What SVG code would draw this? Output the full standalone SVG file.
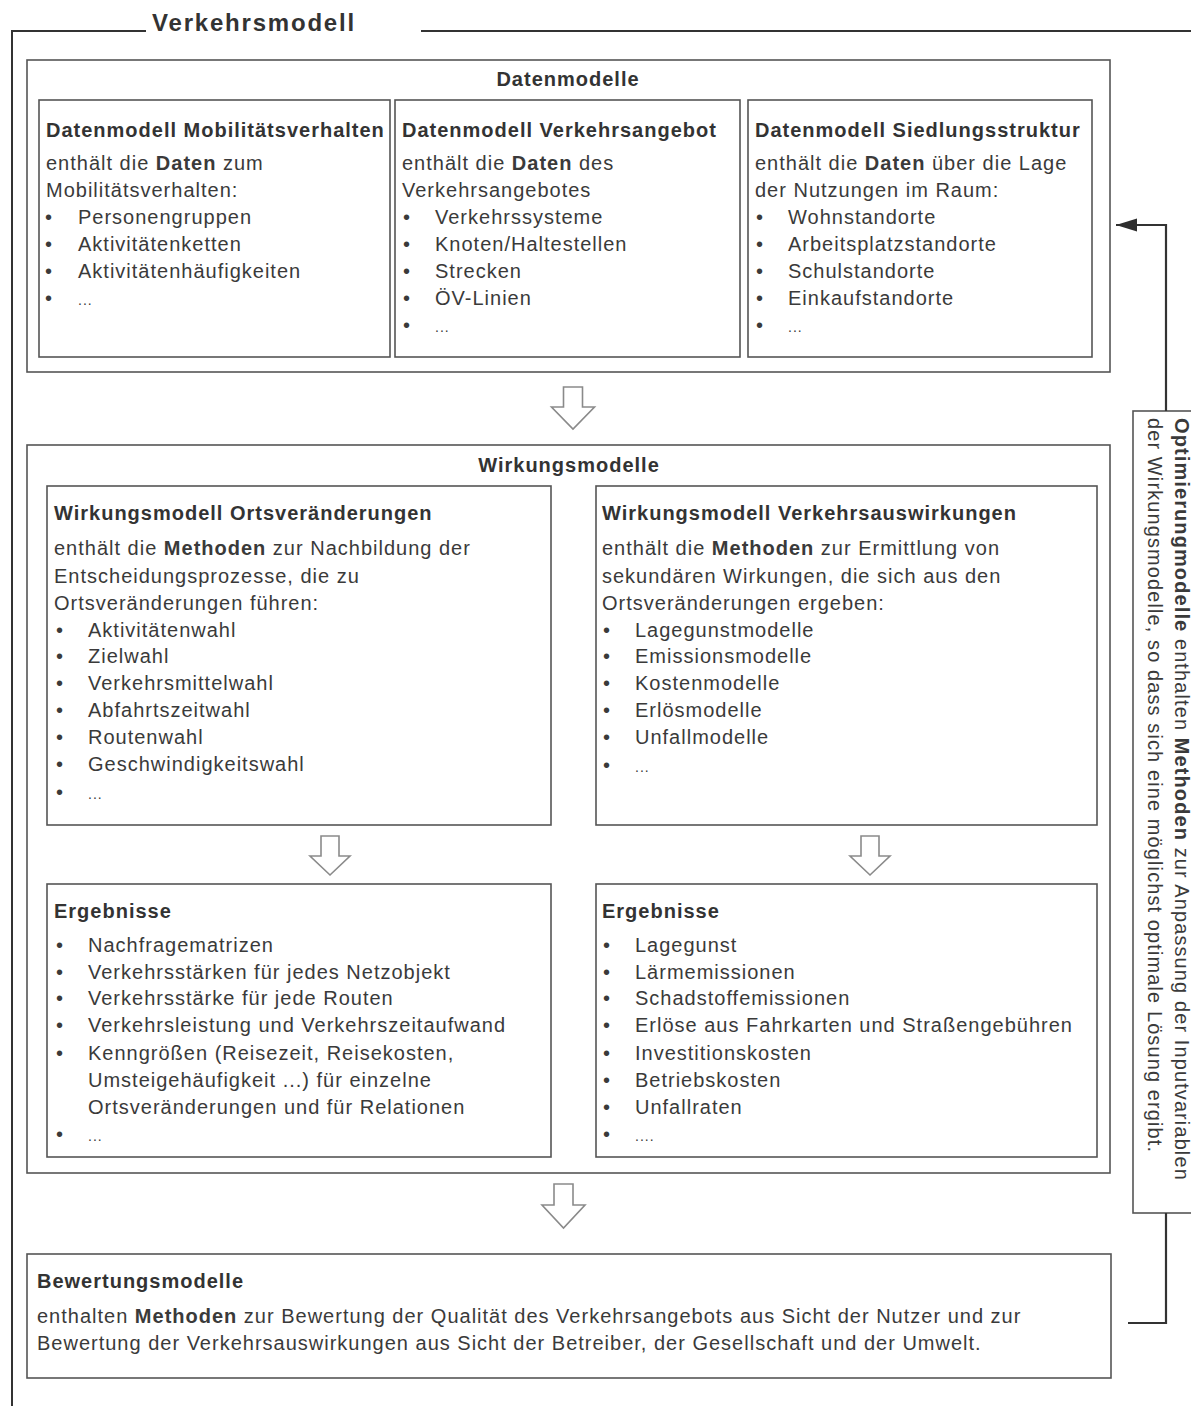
<svg xmlns="http://www.w3.org/2000/svg" width="1191" height="1406" viewBox="0 0 1191 1406">
<style>
text{font-family:"Liberation Sans",Arial,sans-serif;font-size:20px;fill:#3a3a3a;letter-spacing:1px}
.b{font-weight:bold}
.t{font-weight:bold;fill:#333}
.box{fill:#fff;stroke:#555;stroke-width:1.6}
.frame{fill:none;stroke:#333;stroke-width:2}
.blk{fill:#fff;stroke:#8a8a8a;stroke-width:1.6;stroke-linejoin:miter}
.con{fill:none;stroke:#333;stroke-width:2.2}
</style>
<defs>
<marker id="ah" markerWidth="22" markerHeight="14" refX="21" refY="7" orient="auto" markerUnits="userSpaceOnUse">
<path d="M0,0.5 L21,7 L0,13.5 Z" fill="#2e2e2e"/>
</marker>
</defs>
<rect width="1191" height="1406" fill="#fff"/>

<g id="frame">
<path class="frame" d="M12,1406 V31 H146 M421,31 H1191"/>
<text class="t" x="152" y="31" style="font-size:24px;letter-spacing:1.8px">Verkehrsmodell</text>
</g>

<g id="datenmodelle">
<rect class="box" x="27" y="60" width="1083" height="312"/>
<text class="t" x="568" y="86" text-anchor="middle">Datenmodelle</text>
</g>

<g id="dm-mobilitaet">
<rect class="box" x="39" y="100" width="351" height="257"/>
<text class="t" x="46" y="137">Datenmodell Mobilitätsverhalten</text>
<text x="46" y="170">enthält die <tspan class="b">Daten</tspan> zum</text>
<text x="46" y="197">Mobilitätsverhalten:</text>
<text x="45" y="224">•</text><text x="78" y="224">Personengruppen</text>
<text x="45" y="251">•</text><text x="78" y="251">Aktivitätenketten</text>
<text x="45" y="278">•</text><text x="78" y="278">Aktivitätenhäufigkeiten</text>
<text x="45" y="305">•</text><text x="78" y="305" style="font-size:14px">...</text>
</g>

<g id="dm-verkehrsangebot">
<rect class="box" x="395" y="100" width="345" height="257"/>
<text class="t" x="402" y="137">Datenmodell Verkehrsangebot</text>
<text x="402" y="170">enthält die <tspan class="b">Daten</tspan> des</text>
<text x="402" y="197">Verkehrsangebotes</text>
<text x="403" y="224">•</text><text x="435" y="224">Verkehrssysteme</text>
<text x="403" y="251">•</text><text x="435" y="251">Knoten/Haltestellen</text>
<text x="403" y="278">•</text><text x="435" y="278">Strecken</text>
<text x="403" y="305">•</text><text x="435" y="305">ÖV-Linien</text>
<text x="403" y="332">•</text><text x="435" y="332" style="font-size:14px">...</text>
</g>

<g id="dm-siedlung">
<rect class="box" x="748" y="100" width="344" height="257"/>
<text class="t" x="755" y="137">Datenmodell Siedlungsstruktur</text>
<text x="755" y="170">enthält die <tspan class="b">Daten</tspan> über die Lage</text>
<text x="755" y="197">der Nutzungen im Raum:</text>
<text x="756" y="224">•</text><text x="788" y="224">Wohnstandorte</text>
<text x="756" y="251">•</text><text x="788" y="251">Arbeitsplatzstandorte</text>
<text x="756" y="278">•</text><text x="788" y="278">Schulstandorte</text>
<text x="756" y="305">•</text><text x="788" y="305">Einkaufstandorte</text>
<text x="756" y="332">•</text><text x="788" y="332" style="font-size:14px">...</text>
</g>

<g id="wirkungsmodelle">
<rect class="box" x="27" y="445" width="1083" height="728"/>
<text class="t" x="569" y="472" text-anchor="middle">Wirkungsmodelle</text>
</g>

<g id="wm-orts">
<rect class="box" x="47" y="486" width="504" height="339"/>
<text class="t" x="54" y="520">Wirkungsmodell Ortsveränderungen</text>
<text x="54" y="555">enthält die <tspan class="b">Methoden</tspan> zur Nachbildung der</text>
<text x="54" y="583">Entscheidungsprozesse, die zu</text>
<text x="54" y="610">Ortsveränderungen führen:</text>
<text x="56" y="637">•</text><text x="88" y="637">Aktivitätenwahl</text>
<text x="56" y="663">•</text><text x="88" y="663">Zielwahl</text>
<text x="56" y="690">•</text><text x="88" y="690">Verkehrsmittelwahl</text>
<text x="56" y="717">•</text><text x="88" y="717">Abfahrtszeitwahl</text>
<text x="56" y="744">•</text><text x="88" y="744">Routenwahl</text>
<text x="56" y="771">•</text><text x="88" y="771">Geschwindigkeitswahl</text>
<text x="56" y="799">•</text><text x="88" y="799" style="font-size:14px">...</text>
</g>

<g id="wm-verkehr">
<rect class="box" x="596" y="486" width="501" height="339"/>
<text class="t" x="602" y="520">Wirkungsmodell Verkehrsauswirkungen</text>
<text x="602" y="555">enthält die <tspan class="b">Methoden</tspan> zur Ermittlung von</text>
<text x="602" y="583">sekundären Wirkungen, die sich aus den</text>
<text x="602" y="610">Ortsveränderungen ergeben:</text>
<text x="603" y="637">•</text><text x="635" y="637">Lagegunstmodelle</text>
<text x="603" y="663">•</text><text x="635" y="663">Emissionsmodelle</text>
<text x="603" y="690">•</text><text x="635" y="690">Kostenmodelle</text>
<text x="603" y="717">•</text><text x="635" y="717">Erlösmodelle</text>
<text x="603" y="744">•</text><text x="635" y="744">Unfallmodelle</text>
<text x="603" y="772">•</text><text x="635" y="772" style="font-size:14px">...</text>
</g>

<g id="erg-orts">
<rect class="box" x="47" y="884" width="504" height="273"/>
<text class="t" x="54" y="918">Ergebnisse</text>
<text x="56" y="952">•</text><text x="88" y="952">Nachfragematrizen</text>
<text x="56" y="979">•</text><text x="88" y="979">Verkehrsstärken für jedes Netzobjekt</text>
<text x="56" y="1005">•</text><text x="88" y="1005">Verkehrsstärke für jede Routen</text>
<text x="56" y="1032">•</text><text x="88" y="1032">Verkehrsleistung und Verkehrszeitaufwand</text>
<text x="56" y="1060">•</text><text x="88" y="1060">Kenngrößen (Reisezeit, Reisekosten,</text>
<text x="88" y="1087">Umsteigehäufigkeit ...) für einzelne</text>
<text x="88" y="1114">Ortsveränderungen und für Relationen</text>
<text x="56" y="1141">•</text><text x="88" y="1141" style="font-size:14px">...</text>
</g>

<g id="erg-verkehr">
<rect class="box" x="596" y="884" width="501" height="273"/>
<text class="t" x="602" y="918">Ergebnisse</text>
<text x="603" y="952">•</text><text x="635" y="952">Lagegunst</text>
<text x="603" y="979">•</text><text x="635" y="979">Lärmemissionen</text>
<text x="603" y="1005">•</text><text x="635" y="1005">Schadstoffemissionen</text>
<text x="603" y="1032">•</text><text x="635" y="1032">Erlöse aus Fahrkarten und Straßengebühren</text>
<text x="603" y="1060">•</text><text x="635" y="1060">Investitionskosten</text>
<text x="603" y="1087">•</text><text x="635" y="1087">Betriebskosten</text>
<text x="603" y="1114">•</text><text x="635" y="1114">Unfallraten</text>
<text x="603" y="1141">•</text><text x="635" y="1141" style="font-size:14px">....</text>
</g>

<g id="bewertung">
<rect class="box" x="27" y="1254" width="1084" height="124"/>
<text class="t" x="37" y="1288">Bewertungsmodelle</text>
<text x="37" y="1323">enthalten <tspan class="b">Methoden</tspan> zur Bewertung der Qualität des Verkehrsangebots aus Sicht der Nutzer und zur</text>
<text x="37" y="1350">Bewertung der Verkehrsauswirkungen aus Sicht der Betreiber, der Gesellschaft und der Umwelt.</text>
</g>

<g id="optimierung">
<rect class="box" x="1133" y="411" width="70" height="802"/>
<text transform="translate(1175,418) rotate(90)" style="letter-spacing:1.1px"><tspan class="b">Optimierungmodelle</tspan> enthalten <tspan class="b">Methoden</tspan> zur Anpassung der Inputvariablen</text>
<text transform="translate(1148,418) rotate(90)" style="letter-spacing:1.1px">der Wirkungsmodelle, so dass sich eine möglichst optimale Lösung ergibt.</text>
</g>

<g id="connectors">
<path class="blk" d="M563.5,387 H582.5 V407 H594.5 L573,429 L551.5,407 H563.5 Z"/>
<path class="blk" d="M321,836 H339 V856 H350 L330,875 L310,856 H321 Z"/>
<path class="blk" d="M861,836 H879 V856 H890 L870,875 L850,856 H861 Z"/>
<path class="blk" d="M554,1184 H573 V1205 H585 L563.5,1228 L542,1205 H554 Z"/>
<path class="con" d="M1128,1323 H1166 V1213"/>
<path class="con" d="M1166,411 V225 H1116" marker-end="url(#ah)"/>
</g>
</svg>
